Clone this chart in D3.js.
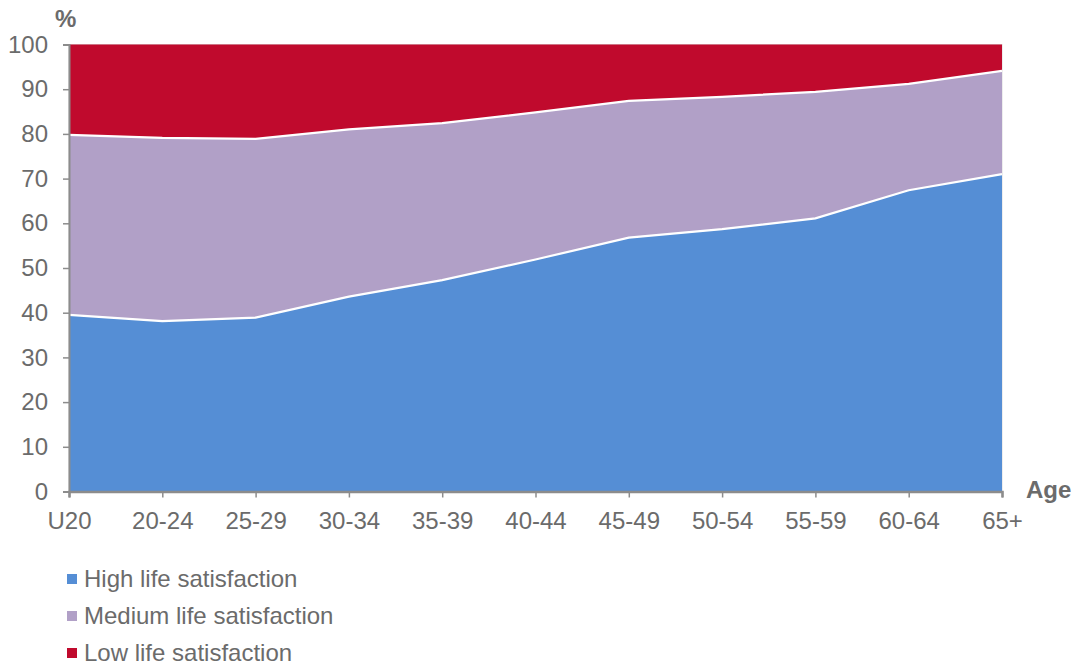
<!DOCTYPE html>
<html>
<head>
<meta charset="utf-8">
<script src="https://cdn.jsdelivr.net/npm/d3@7"></script>
<style>
  body { margin: 0; background: #fff; }
  svg { font-family: "Liberation Sans", Arial, sans-serif; }
</style>
</head>
<body>
<svg id="chart" width="1074" height="666"></svg>
<script>
const categories = ["U20","20-24","25-29","30-34","35-39","40-44","45-49","50-54","55-59","60-64","65+"];
const highValues   = [39.5, 38.1, 38.9, 43.6, 47.3, 51.9, 56.8, 58.7, 61.1, 67.4, 71.0];
const mediumValues = [40.3, 41.0, 40.0, 37.4, 35.1, 32.9, 30.6, 29.6, 28.3, 23.8, 23.1];
const lowValues    = [20.2, 20.9, 21.1, 19.0, 17.6, 15.2, 12.6, 11.7, 10.6, 8.8, 5.9];
const seriesNames  = ["High life satisfaction","Medium life satisfaction","Low life satisfaction"];
const yTicks = [0,10,20,30,40,50,60,70,80,90,100];
const colors = ["#558ED5","#B1A0C7","#C00A2D"];

const svg = d3.select("#chart");
const mLeft = 69, mRight = 1002, mTop = 44.5, mBottom = 491.5;
const textColor = "#6b6b6b";
const fs = 24;

const x = d3.scalePoint().domain(categories).range([mLeft, mRight]);
const y = d3.scaleLinear().domain([0,100]).range([mBottom, mTop]);

const rows = categories.map((c,i)=>({cat:c, high:highValues[i], medium:mediumValues[i], low:lowValues[i]}));
const keys = ["high","medium","low"];
const stack = d3.stack().keys(keys)(rows);

// plot border (light)
svg.append("rect").attr("x",mLeft).attr("y",mTop).attr("width",mRight-mLeft).attr("height",mBottom-mTop)
  .attr("fill","none").attr("stroke","#dcdcdc").attr("stroke-width",1);

const area = d3.area().x((d,i)=>x(categories[i])).y0(d=>y(d[0])).y1(d=>y(d[1]));
svg.append("g").selectAll("path").data(stack).join("path")
  .attr("d", area).attr("fill",(d,i)=>colors[i]);

// white boundary lines
const line = d3.line().x((d,i)=>x(categories[i])).y(d=>y(d[1]));
svg.append("g").selectAll("path").data(stack.slice(0,2)).join("path")
  .attr("d", line).attr("fill","none").attr("stroke","#fff").attr("stroke-width",2.2);

// y axis
const yAxis = svg.append("g").attr("transform",`translate(${mLeft},0)`)
  .call(d3.axisLeft(y).tickValues(yTicks).tickSize(6).tickPadding(15));
yAxis.select(".domain").attr("stroke","#8c8c8c").attr("stroke-width",2);
yAxis.selectAll(".tick line").attr("stroke","#8c8c8c").attr("stroke-width",1.5);
yAxis.selectAll(".tick text").attr("fill",textColor).attr("font-size",fs)
  .attr("font-family","Liberation Sans, Arial, sans-serif");

// x axis
const xAxis = svg.append("g").attr("transform",`translate(0,${mBottom})`)
  .call(d3.axisBottom(x).tickSize(6).tickPadding(14));
xAxis.select(".domain").attr("stroke","#8c8c8c").attr("stroke-width",2.5);
xAxis.selectAll(".tick line").attr("stroke","#8c8c8c").attr("stroke-width",1.5);
xAxis.selectAll(".tick text").attr("fill",textColor).attr("font-size",fs)
  .attr("font-family","Liberation Sans, Arial, sans-serif");

// axis titles
svg.append("text").attr("x",55).attr("y",27).text("%")
  .attr("fill",textColor).attr("font-size",fs).attr("font-weight","bold");
svg.append("text").attr("x",1026).attr("y",498).text("Age")
  .attr("fill",textColor).attr("font-size",fs).attr("font-weight","bold");

// legend
const legend = svg.append("g");
seriesNames.forEach((name,i)=>{
  const cy = 579 + i*37;
  legend.append("rect").attr("x",67).attr("y",cy-5).attr("width",10).attr("height",10).attr("fill",colors[i]);
  legend.append("text").attr("x",84).attr("y",cy+8).text(name)
    .attr("fill",textColor).attr("font-size",fs);
});
</script>
</body>
</html>
